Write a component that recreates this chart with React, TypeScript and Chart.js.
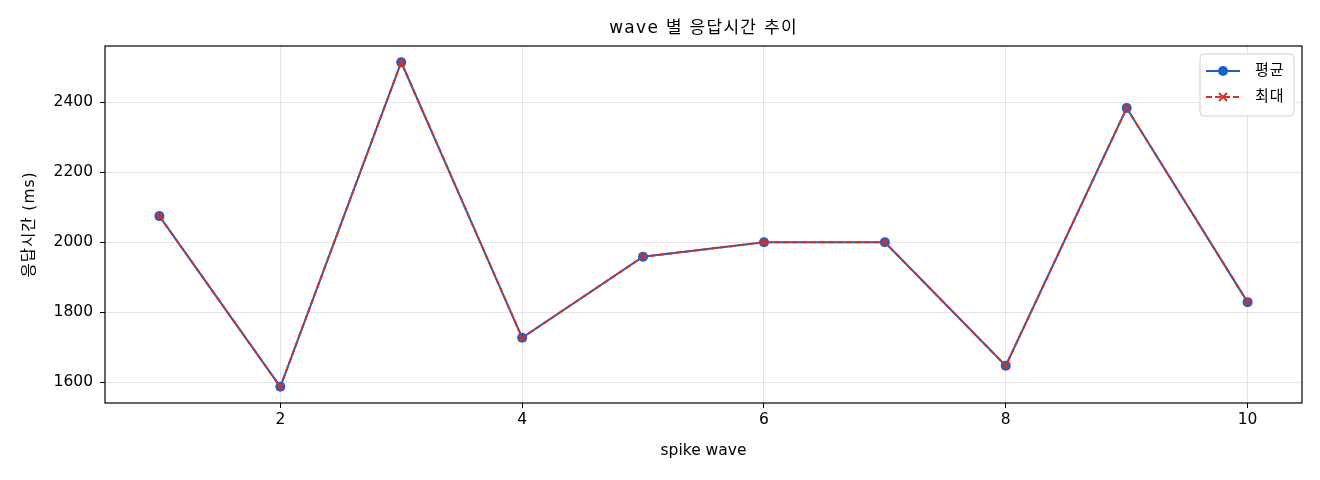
import React, { useEffect, useRef } from "react";
import { Chart, registerables } from "chart.js";

Chart.register(...registerables);

const waves = [1, 2, 3, 4, 5, 6, 7, 8, 9, 10];
const avgMs = [2075, 1587, 2515, 1727, 1959, 2000, 2000, 1647, 2384, 1829];
const maxMs = [2075, 1587, 2515, 1727, 1959, 2000, 2000, 1647, 2384, 1829];
const xTicks = [2, 4, 6, 8, 10];
const yTicks = [1600, 1800, 2000, 2200, 2400];
const titleText = "wave 별 응답시간 추이";
const xTitle = "spike wave";
const yTitle = "응답시간 (ms)";
const legendLabels = ["평균", "최대"];

const BLUE = "#1a63c6";
const RED = "#d0312d";
const FONT = "'DejaVu Sans', 'Noto Sans CJK KR', sans-serif";

export default function App() {
  const ref = useRef<HTMLCanvasElement | null>(null);

  useEffect(() => {
    document.body.style.margin = "0";
    const canvas = ref.current!;
    const allY = [...avgMs, ...maxMs];
    const yMinD = Math.min(...allY);
    const yMaxD = Math.max(...allY);
    const yPad = (yMaxD - yMinD) * 0.05;
    const xPad = (waves[waves.length - 1] - waves[0]) * 0.05;

    const decor = {
      id: "decor",
      afterDraw(chart: any) {
        const ctx = chart.ctx;
        const a = chart.chartArea;
        ctx.save();
        // frame
        ctx.strokeStyle = "#000";
        ctx.lineWidth = 1.2;
        ctx.strokeRect(a.left, a.top, a.right - a.left, a.bottom - a.top);
        // titles
        ctx.fillStyle = "#000";
        ctx.textAlign = "center";
        ctx.textBaseline = "middle";
        ctx.font = `17px ${FONT}`;
        ctx.letterSpacing = "1.3px";
        ctx.fillText(titleText, (a.left + a.right) / 2, 29);
        ctx.font = `15.5px ${FONT}`;
        ctx.letterSpacing = "0px";
        ctx.fillText(xTitle, (a.left + a.right) / 2, 451);
        ctx.save();
        ctx.translate(30, (a.top + a.bottom) / 2);
        ctx.rotate(-Math.PI / 2);
        ctx.letterSpacing = "1px";
        ctx.fillText(yTitle, 0, 0);
        ctx.restore();
        // legend
        const bx = a.right - 102, by = a.top + 8, bw = 94, bh = 62;
        ctx.beginPath();
        ctx.roundRect(bx, by, bw, bh, 4);
        ctx.fillStyle = "rgba(255,255,255,0.85)";
        ctx.fill();
        ctx.strokeStyle = "#d0d0d0";
        ctx.lineWidth = 1;
        ctx.stroke();
        const rows = [by + 17, by + 43];
        // row 1
        ctx.strokeStyle = BLUE;
        ctx.lineWidth = 2;
        ctx.setLineDash([]);
        ctx.beginPath();
        ctx.moveTo(bx + 6, rows[0]);
        ctx.lineTo(bx + 40, rows[0]);
        ctx.stroke();
        ctx.fillStyle = BLUE;
        ctx.beginPath();
        ctx.arc(bx + 23, rows[0], 5, 0, Math.PI * 2);
        ctx.fill();
        // row 2
        ctx.strokeStyle = RED;
        ctx.setLineDash([6, 3]);
        ctx.beginPath();
        ctx.moveTo(bx + 6, rows[1]);
        ctx.lineTo(bx + 40, rows[1]);
        ctx.stroke();
        ctx.setLineDash([]);
        ctx.lineWidth = 1.8;
        ctx.beginPath();
        ctx.moveTo(bx + 19, rows[1] - 4);
        ctx.lineTo(bx + 27, rows[1] + 4);
        ctx.moveTo(bx + 27, rows[1] - 4);
        ctx.lineTo(bx + 19, rows[1] + 4);
        ctx.stroke();
        ctx.fillStyle = "#000";
        ctx.textAlign = "left";
        ctx.font = `15px ${FONT}`;
        ctx.letterSpacing = "1px";
        ctx.fillText(legendLabels[0], bx + 55, rows[0]);
        ctx.fillText(legendLabels[1], bx + 55, rows[1]);
        ctx.restore();
      },
    };

    const chart = new Chart(canvas, {
      type: "line",
      data: {
        datasets: [
          {
            label: legendLabels[0],
            data: waves.map((w, i) => ({ x: w, y: avgMs[i] })),
            borderColor: BLUE,
            backgroundColor: BLUE,
            borderWidth: 2,
            pointStyle: "circle",
            pointRadius: 5,
            pointBorderWidth: 0,
            order: 1,
          },
          {
            label: legendLabels[1],
            data: waves.map((w, i) => ({ x: w, y: maxMs[i] })),
            borderColor: RED,
            backgroundColor: RED,
            borderWidth: 2,
            borderDash: [6, 3],
            pointStyle: "crossRot",
            pointRadius: 5,
            pointBorderWidth: 1.8,
            pointBorderColor: RED,
            order: 0,
          },
        ],
      },
      options: {
        animation: false,
        responsive: true,
        maintainAspectRatio: false,
        layout: { padding: { top: 46, right: 18, left: 0, bottom: 0 } },
        plugins: { legend: { display: false }, title: { display: false }, tooltip: { enabled: false } },
        scales: {
          x: {
            type: "linear",
            min: waves[0] - xPad,
            max: waves[waves.length - 1] + xPad,
            afterBuildTicks: (s: any) => { s.ticks = xTicks.map((v) => ({ value: v })); },
            afterFit: (s: any) => { s.height = 77; },
            grid: { color: "rgba(0,0,0,0.1)", tickColor: "#000", tickLength: 5, drawTicks: true },
            border: { display: false },
            ticks: { color: "#000", font: { family: FONT, size: 15.5 }, padding: 3, maxRotation: 0, callback: (v: any) => String(v) },
          },
          y: {
            type: "linear",
            min: yMinD - yPad,
            max: yMaxD + yPad,
            afterBuildTicks: (s: any) => { s.ticks = yTicks.map((v) => ({ value: v })); },
            afterFit: (s: any) => { s.width = 105; },
            grid: { color: "rgba(0,0,0,0.1)", tickColor: "#000", tickLength: 5, drawTicks: true },
            border: { display: false },
            ticks: { color: "#000", font: { family: FONT, size: 15.5 }, padding: 7, callback: (v: any) => String(v) },
          },
        },
      },
      plugins: [decor],
    } as any);
    return () => chart.destroy();
  }, []);

  return (
    <div style={{ width: 1320, height: 480, position: "relative" }}>
      <canvas ref={ref} />
    </div>
  );
}
